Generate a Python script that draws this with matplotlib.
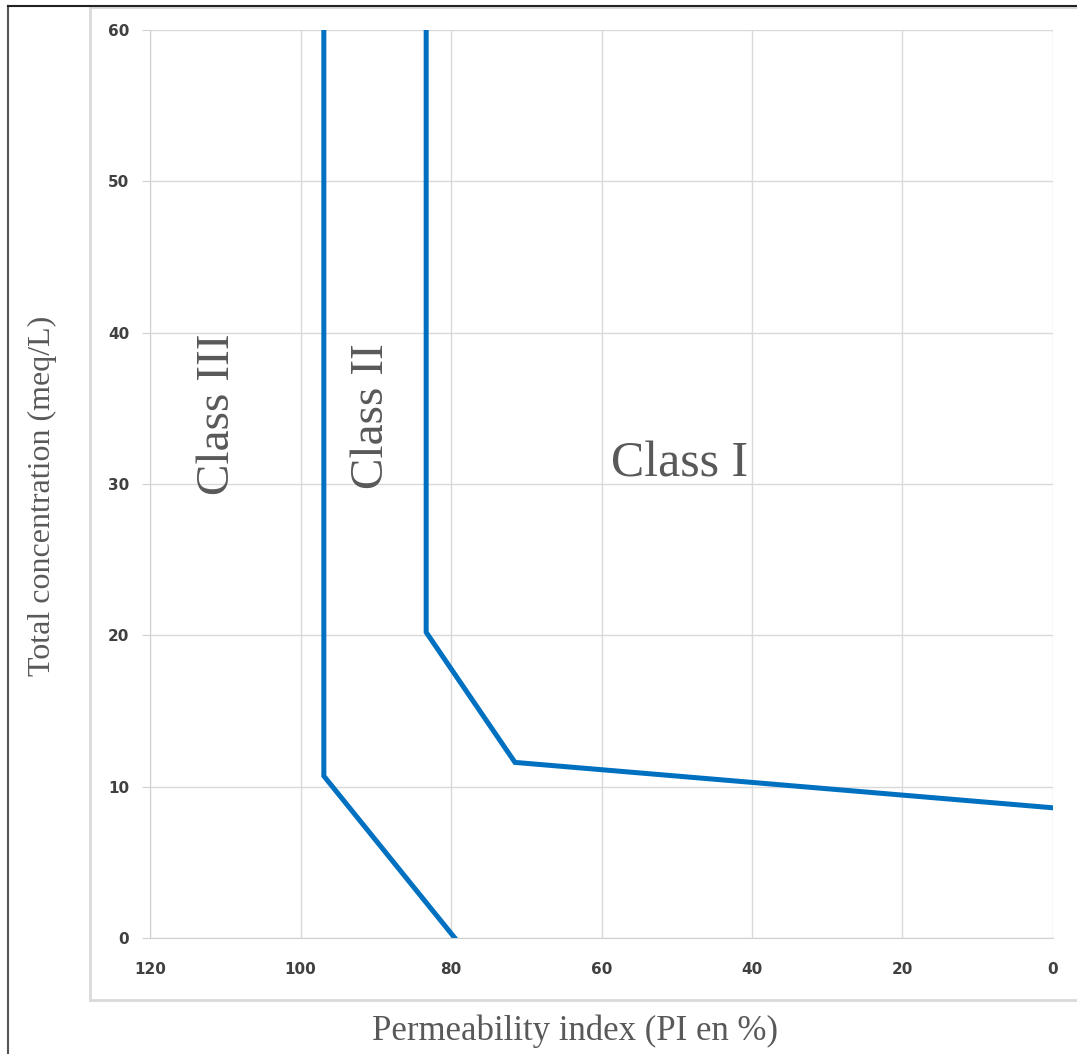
import matplotlib
matplotlib.use("Agg")
import matplotlib.pyplot as plt
from matplotlib.lines import Line2D

# Limites des classes (indice de perméabilité, concentration totale)
class3_pi = [79.5, 96.9, 96.9]
class3_conc = [0, 10.7, 60]
class2_pi = [0, 71.5, 83.3, 83.3]
class2_conc = [8.6, 11.6, 20.2, 60]

x_ticks = [120, 100, 80, 60, 40, 20, 0]
y_ticks = [0, 10, 20, 30, 40, 50, 60]

fig = plt.figure(figsize=(10.77, 10.54), dpi=100)
ax = fig.add_axes([0.1393, 0.1101, 0.8384, 0.8615])

blue = "#0070c0"
ax.plot(class3_pi, class3_conc, color=blue, lw=3.6, solid_joinstyle="miter")
ax.plot(class2_pi, class2_conc, color=blue, lw=3.6, solid_joinstyle="miter")

ax.set_xlim(120, 0)
ax.set_ylim(0, 60)
ax.set_xticks(x_ticks)
ax.set_yticks(y_ticks)
ax.grid(True, color="#d9d9d9", lw=1)
ax.set_axisbelow(True)
for s in ["top", "right"]:
    ax.spines[s].set_visible(False)
for s in ["left", "bottom"]:
    ax.spines[s].set_color("#d0d0d0")
ax.tick_params(axis="x", length=0, pad=17)
ax.tick_params(axis="y", length=6, color="#d0d0d0", pad=9)
for lab in ax.get_xticklabels() + ax.get_yticklabels():
    lab.set_fontweight("bold")
    lab.set_fontsize(11)
    lab.set_color("#404040")

serif = "Liberation Serif"
ax.text(111, 34.6, "Class III", rotation=90, fontsize=34, family=serif,
        color="#595959", ha="center", va="center")
ax.text(90.6, 34.5, "Class II", rotation=90, fontsize=34, family=serif,
        color="#595959", ha="center", va="center")
ax.text(49.6, 31.3, "Class I", fontsize=36, family=serif,
        color="#595959", ha="center", va="center")

fig.text(0.534, 0.022, "Permeability index (PI en %)", fontsize=25,
         family=serif, color="#595959", ha="center", va="center")
fig.text(0.039, 0.53, "Total concentration (meq/L)", fontsize=23,
         family=serif, color="#595959", ha="center", va="center", rotation=90)

# Cadres autour du graphique
gray = "#d9d9d9"
fig.add_artist(Line2D([0.0836, 0.0836], [0.0512, 0.9924], color=gray, lw=2))
fig.add_artist(Line2D([0.0836, 1.0], [0.0512, 0.0512], color=gray, lw=2))
fig.add_artist(Line2D([0.0836, 1.0], [0.9924, 0.9924], color=gray, lw=1.5))
fig.add_artist(Line2D([0.0074, 0.0074], [0.0, 0.9943], color="#555555", lw=1.5))
fig.add_artist(Line2D([0.0074, 1.0], [0.9943, 0.9943], color="#222222", lw=1.5))

fig.savefig("out.png", dpi=100)
